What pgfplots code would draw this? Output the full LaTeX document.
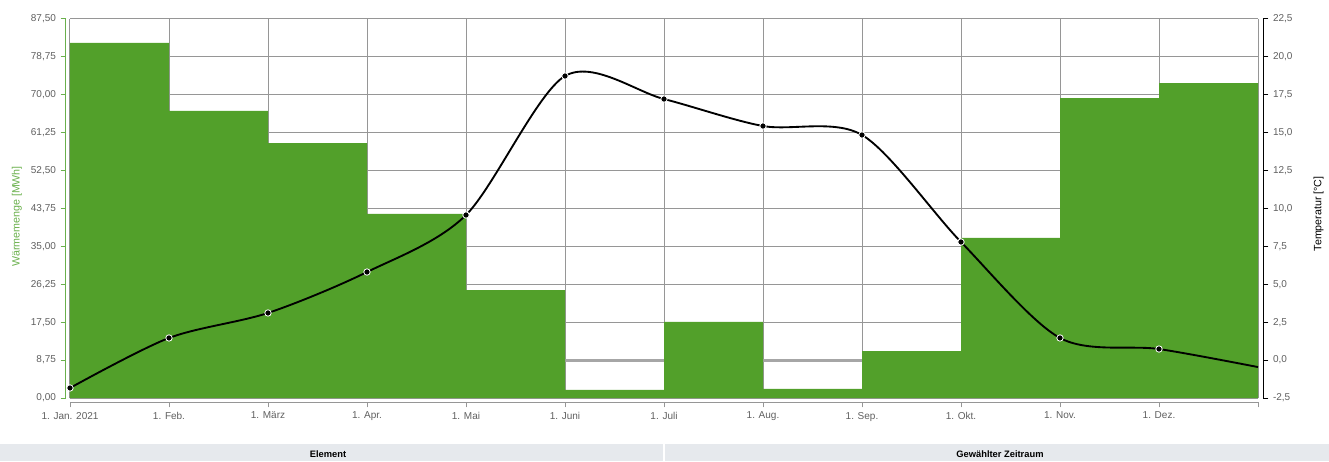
\documentclass[border=0pt]{standalone}
\usepackage{pgfplots}
\pgfplotsset{compat=1.18}
\usepackage{fontspec}
\setmainfont{Liberation Sans}
\definecolor{barg}{RGB}{82,160,42}
\definecolor{labg}{RGB}{106,176,76}
\definecolor{gridc}{RGB}{150,150,150}
\definecolor{tickt}{RGB}{95,95,95}
\definecolor{band}{RGB}{230,233,237}

\pgfplotsset{
  common/.style={
    at={(52.5pt,47.25pt)}, anchor=south west,
    scale only axis, width=891pt, height=284.25pt,
    xmin=0, xmax=12,
    tick align=outside,
    major tick length=4pt,
    tick label style={font=\fontsize{7.5}{9}\selectfont, text=tickt},
    /pgf/number format/assume math mode=true,
    /pgf/number format/use comma,
    /pgf/number format/1000 sep={},
  }
}

\begin{document}
\begin{tikzpicture}
\path[use as bounding box] (0,0) rectangle (996.75pt,345.75pt);
\fill[band] (0,0) rectangle (996.75pt,12.75pt);
\draw[white, line width=1pt] (498pt,0) -- (498pt,12.75pt);
\node[font=\bfseries\fontsize{7}{8}\selectfont] at (246pt,5.25pt) {Element};
\node[font=\bfseries\fontsize{7}{8}\selectfont] at (750pt,5.25pt) {Gewählter Zeitraum};

\begin{axis}[
  common,
  ymin=0, ymax=87.5,
  axis x line*=bottom, axis y line*=left,
  axis x line shift=3pt, axis y line shift=3pt,
  x axis line style={gridc, line width=0.75pt, -},
  y axis line style={labg, line width=0.75pt, -},
  xtick style={gridc, line width=0.6pt},
  ytick style={labg, line width=0.75pt},
  xtick={0,1,...,12},
  xticklabels={1. Jan. 2021, 1. Feb., 1. März, 1. Apr., 1. Mai, 1. Juni, 1. Juli, 1. Aug., 1. Sep., 1. Okt., 1. Nov., 1. Dez., {}},
  ytick={0,8.75,17.5,26.25,35,43.75,52.5,61.25,70,78.75,87.5},
  yticklabel style={/pgf/number format/.cd, fixed, fixed zerofill, precision=2},
  grid=major,
  major grid style={gridc, line width=0.75pt},
  ylabel={Wärmemenge [MWh]},
  ylabel style={font=\fontsize{8}{9}\selectfont, text=labg, xshift=-6pt},
]
\addplot[color=gridc!85, line width=2.25pt] coordinates {(0,8.75)(12,8.75)};
\addplot[const plot, fill=barg, draw=none] coordinates {
  (0,81.96)(1,66.26)(2,58.87)(3,42.48)(4,24.93)(5,1.85)
  (6,17.55)(7,2.08)(8,10.85)(9,36.94)(10,69.26)(11,72.72)(12,72.72)
} \closedcycle;
\end{axis}

\begin{axis}[
  common,
  ymin=-2.5, ymax=22.5,
  axis x line=none, axis y line*=right,
  axis y line shift=3.75pt,
  y axis line style={black, line width=0.75pt, -},
  ytick style={black, line width=0.75pt},
  ytick={-2.5,0,2.5,5,7.5,10,12.5,15,17.5,20,22.5},
  yticklabel style={/pgf/number format/.cd, fixed, fixed zerofill, precision=1},
  ylabel={Temperatur [°C]},
  ylabel style={font=\fontsize{8}{9}\selectfont, text=black, yshift=-9pt, xshift=-4pt},
]
\addplot[black, line width=1.4pt, smooth,
  mark=*, mark size=2.4pt, mark options={fill=black, draw=white, line width=0.6pt},
  mark indices={1,...,12}]
coordinates {
  (0,-1.84)(1,1.46)(2,3.11)(3,5.81)(4,9.57)(5,18.74)(6,17.22)
  (7,15.44)(8,14.85)(9,7.79)(10,1.46)(11,0.73)(12,-0.46)
};
\end{axis}
\end{tikzpicture}
\end{document}
